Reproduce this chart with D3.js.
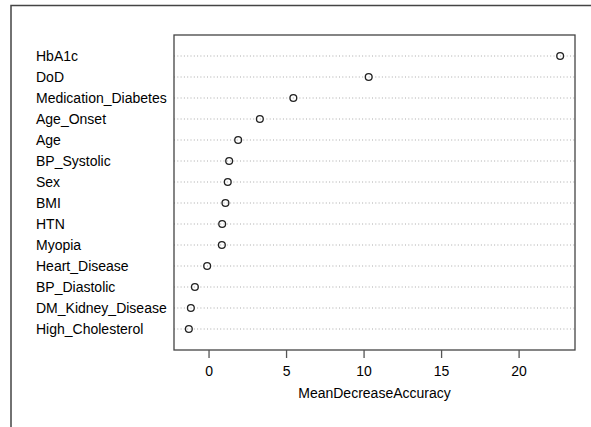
<!DOCTYPE html>
<html>
<head>
<meta charset="utf-8">
<script src="https://cdn.jsdelivr.net/npm/d3@7"></script>
<style>
  body { margin: 0; background: #fff; }
  svg { display: block; font-family: "Liberation Sans", Arial, Helvetica, sans-serif; }
</style>
</head>
<body>
<div id="chart"></div>
<script>
// variable importance, top to bottom as drawn
var features = ['HbA1c', 'DoD', 'Medication_Diabetes', 'Age_Onset', 'Age', 'BP_Systolic', 'Sex',
  'BMI', 'HTN', 'Myopia', 'Heart_Disease', 'BP_Diastolic', 'DM_Kidney_Disease', 'High_Cholesterol'];
var meanDecreaseAccuracy = [22.68, 10.33, 5.47, 3.31, 1.91, 1.33, 1.24,
  1.09, 0.88, 0.86, -0.09, -0.88, -1.14, -1.27];
var xTicks = [0, 5, 10, 15, 20];
var xTitle = 'MeanDecreaseAccuracy';

var width = 591, height = 427;
var margin = { top: 35, right: 16, bottom: 77, left: 174 };

var svg = d3.select('#chart')
  .append('svg')
  .attr('width', width)
  .attr('height', height);

// outer frame (only top and left are inside the picture)
svg.append('path')
  .attr('d', 'M11,' + (height + 5) + 'V5.5H' + (width + 5))
  .attr('fill', 'none')
  .attr('stroke', '#444')
  .attr('stroke-width', 1.5);

// R dotchart style: extend range by 4%
var lo = d3.min(meanDecreaseAccuracy), hi = d3.max(meanDecreaseAccuracy);
var pad = (hi - lo) * 0.04;
var x = d3.scaleLinear()
  .domain([lo - pad, hi + pad])
  .range([margin.left, width - margin.right]);

var n = features.length;
var y = d3.scaleLinear()
  .domain([0, n + 1])
  .range([height - margin.bottom, margin.top]);

// row i (0 = top) sits at position n - i
function rowY(i) { return y(n - i); }

// dotted guide lines
svg.append('g')
  .selectAll('line')
  .data(features)
  .enter()
  .append('line')
  .attr('x1', x.range()[0])
  .attr('x2', x.range()[1])
  .attr('y1', function (d, i) { return rowY(i); })
  .attr('y2', function (d, i) { return rowY(i); })
  .attr('stroke', '#aaa')
  .attr('stroke-width', 1)
  .attr('stroke-dasharray', '1,2.3');

// labels
svg.append('g')
  .selectAll('text')
  .data(features)
  .enter()
  .append('text')
  .attr('x', 36)
  .attr('y', function (d, i) { return rowY(i); })
  .attr('dy', '0.36em')
  .style('font-size', '14px')
  .attr('fill', '#000')
  .text(function (d) { return d; });

// points
svg.append('g')
  .selectAll('circle')
  .data(meanDecreaseAccuracy)
  .enter()
  .append('circle')
  .attr('cx', function (d) { return x(d); })
  .attr('cy', function (d, i) { return rowY(i); })
  .attr('r', 3.4)
  .attr('fill', 'none')
  .attr('stroke', '#222')
  .attr('stroke-width', 1.3);

// plot box
svg.append('rect')
  .attr('x', x.range()[0])
  .attr('y', margin.top)
  .attr('width', x.range()[1] - x.range()[0])
  .attr('height', height - margin.bottom - margin.top)
  .attr('fill', 'none')
  .attr('stroke', '#444')
  .attr('stroke-width', 1.3);

// x axis
var xAxis = d3.axisBottom(x)
  .tickValues(xTicks)
  .tickSize(8)
  .tickPadding(8)
  .tickFormat(d3.format('d'));

var gx = svg.append('g')
  .attr('transform', 'translate(0,' + (height - margin.bottom) + ')')
  .call(xAxis);
gx.select('.domain').remove();
gx.selectAll('.tick line').attr('stroke', '#555').attr('stroke-width', 1.3);
gx.selectAll('.tick text')
  .attr('fill', '#000')
  .style('font-size', '14px')
  .style('font-family', '"Liberation Sans", Arial, sans-serif');

svg.append('text')
  .attr('x', (x.range()[0] + x.range()[1]) / 2)
  .attr('y', 393)
  .attr('dy', '0.36em')
  .attr('text-anchor', 'middle')
  .style('font-size', '14px')
  .attr('fill', '#000')
  .text(xTitle);
</script>
</body>
</html>
